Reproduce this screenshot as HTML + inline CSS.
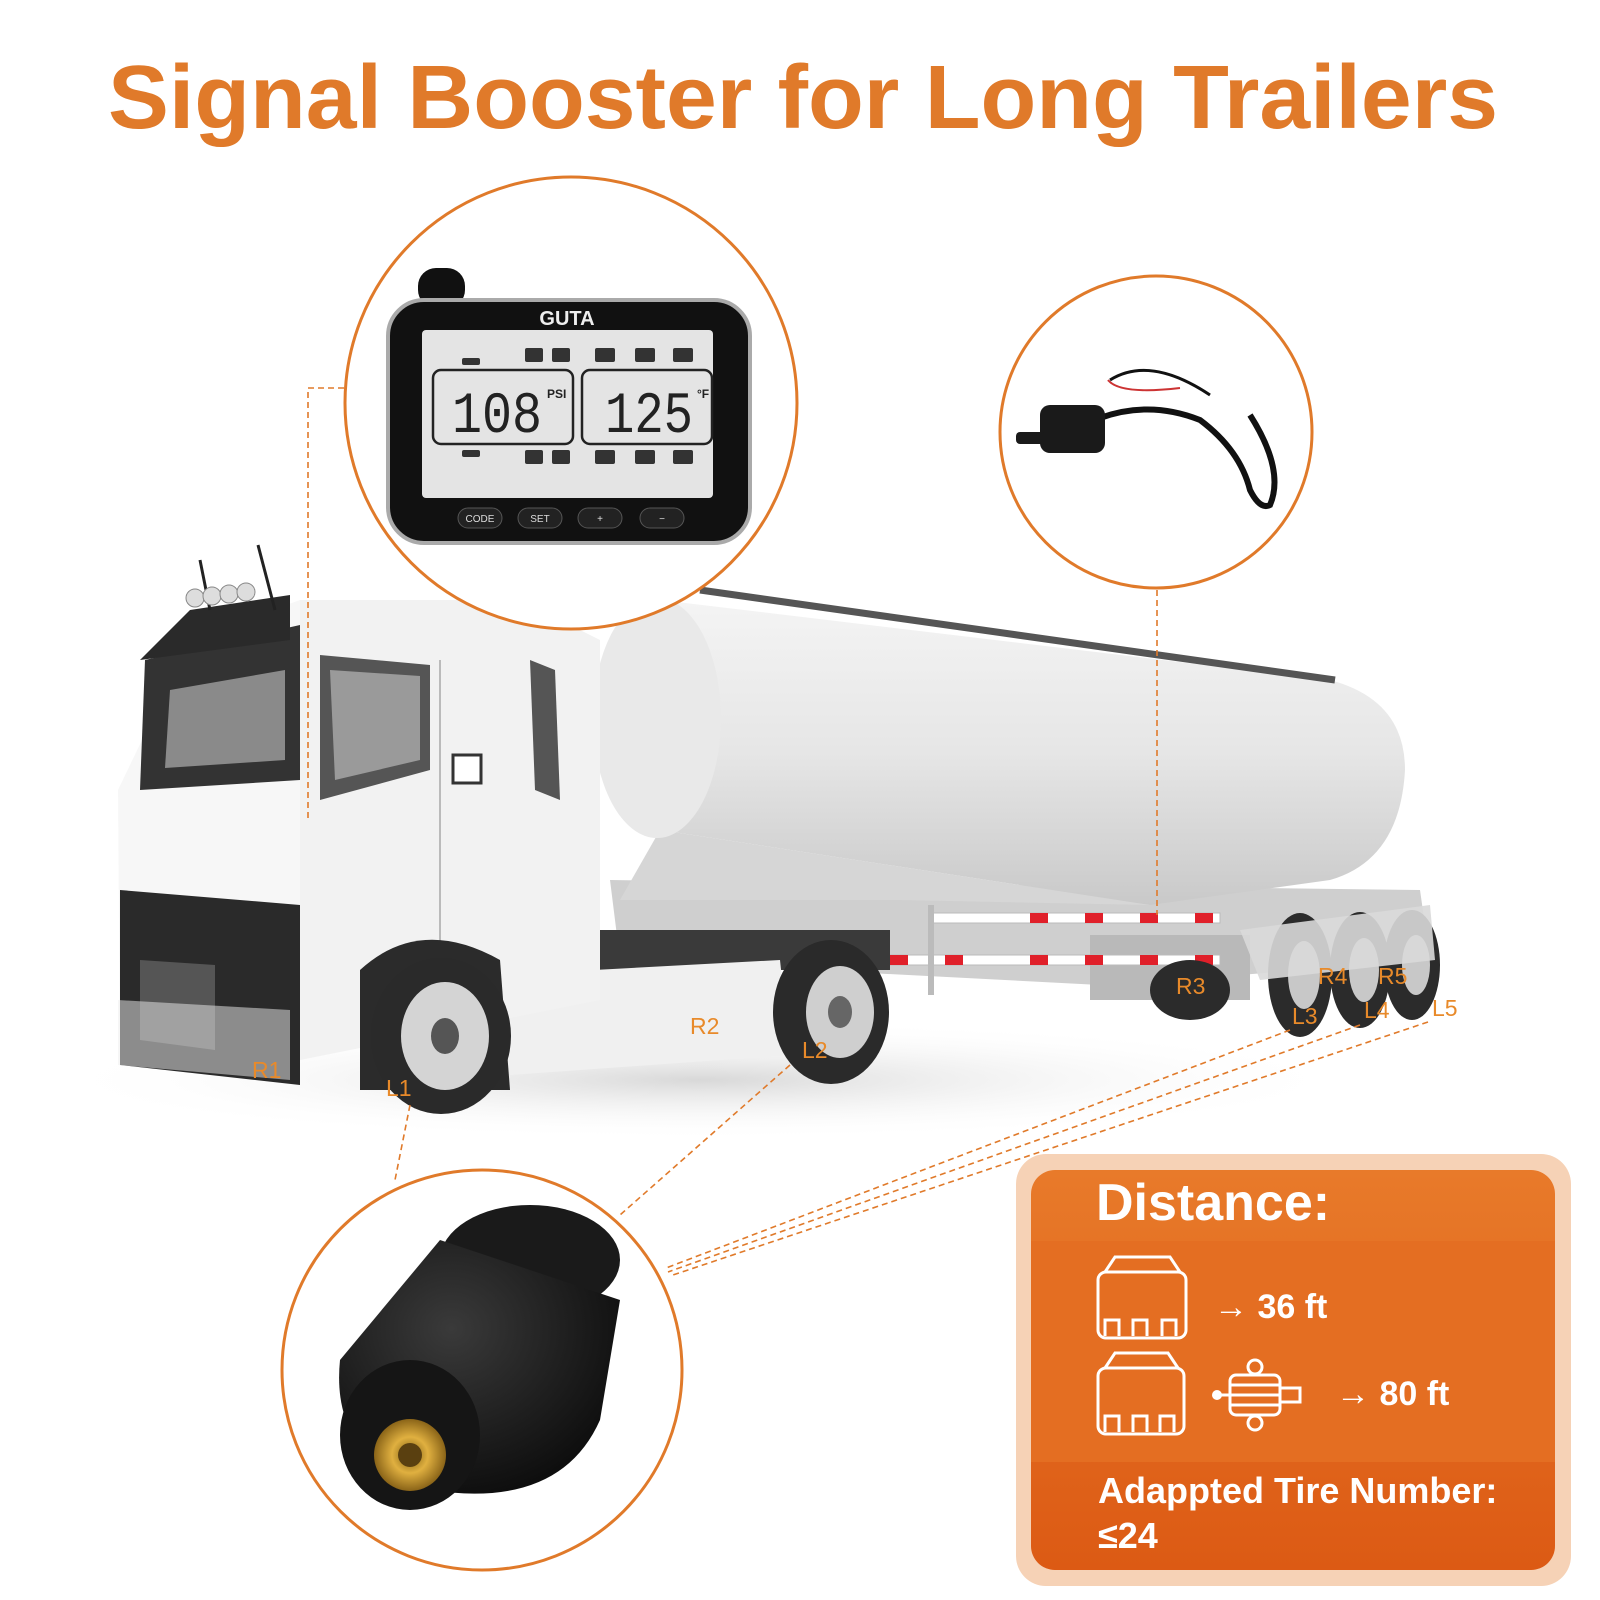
<!DOCTYPE html>
<html><head><meta charset="utf-8"><style>
html,body{margin:0;padding:0;background:#fff;}
svg{display:block}
</style></head><body>
<svg width="1600" height="1600" viewBox="0 0 1600 1600" xmlns="http://www.w3.org/2000/svg" font-family="Liberation Sans, sans-serif">
<defs>
<linearGradient id="tank" x1="0" y1="0" x2="0" y2="1"><stop offset="0" stop-color="#f4f4f4"/><stop offset="0.5" stop-color="#e6e6e6"/><stop offset="1" stop-color="#c9c9c9"/></linearGradient>
<linearGradient id="org" x1="0" y1="0" x2="0" y2="1"><stop offset="0" stop-color="#e87a2a"/><stop offset="1" stop-color="#dc5a14"/></linearGradient>
<radialGradient id="sens" cx="0.4" cy="0.35" r="0.7"><stop offset="0" stop-color="#3a3a3a"/><stop offset="1" stop-color="#0c0c0c"/></radialGradient>
<radialGradient id="brass" cx="0.5" cy="0.5" r="0.5"><stop offset="0" stop-color="#7a5a10"/><stop offset="0.5" stop-color="#e0b040"/><stop offset="1" stop-color="#8a6418"/></radialGradient>
<radialGradient id="shadow" cx="0.5" cy="0.5" r="0.5"><stop offset="0" stop-color="#d8d8d8"/><stop offset="1" stop-color="#fff" stop-opacity="0"/></radialGradient>
</defs>

<text x="803" y="128" text-anchor="middle" font-size="90" font-weight="bold" fill="#e07a2a" textLength="1390" lengthAdjust="spacingAndGlyphs">Signal Booster for Long Trailers</text>

<ellipse cx="700" cy="1080" rx="660" ry="60" fill="url(#shadow)"/>

<polygon points="610,880 1420,890 1430,960 1240,975 1100,985 620,960" fill="#cfcfcf"/>
<rect x="1090" y="935" width="160" height="65" fill="#b9b9b9"/>
<path d="M660,600 L1330,680 Q1405,700 1405,770 Q1400,860 1330,880 L1150,905 L660,830 Z" fill="url(#tank)"/>
<path d="M660,830 L620,900 L900,900 L1150,905 Z" fill="#d6d6d6"/>
<ellipse cx="657" cy="718" rx="64" ry="120" fill="#e9e9e9"/>
<line x1="700" y1="590" x2="1335" y2="680" stroke="#555" stroke-width="7"/>
<g>
<rect x="930" y="913" width="290" height="10" fill="#fff" stroke="#bbb"/>
<rect x="880" y="955" width="340" height="10" fill="#fff" stroke="#bbb"/>
<g fill="#e0202a">
<rect x="1030" y="913" width="18" height="10"/><rect x="1085" y="913" width="18" height="10"/><rect x="1140" y="913" width="18" height="10"/><rect x="1195" y="913" width="18" height="10"/>
<rect x="890" y="955" width="18" height="10"/><rect x="945" y="955" width="18" height="10"/><rect x="1030" y="955" width="18" height="10"/><rect x="1085" y="955" width="18" height="10"/><rect x="1140" y="955" width="18" height="10"/><rect x="1195" y="955" width="18" height="10"/>
</g>
</g>
<rect x="928" y="905" width="6" height="90" fill="#bbb"/>
<g fill="#2b2b2b">
<ellipse cx="1190" cy="990" rx="40" ry="30"/>
<ellipse cx="1300" cy="975" rx="32" ry="62"/><ellipse cx="1360" cy="970" rx="30" ry="58"/><ellipse cx="1412" cy="965" rx="28" ry="55"/>
</g>
<g fill="#c8c8c8"><ellipse cx="1304" cy="975" rx="16" ry="34"/><ellipse cx="1364" cy="970" rx="15" ry="32"/><ellipse cx="1416" cy="965" rx="14" ry="30"/></g>
<polygon points="1240,930 1430,905 1435,960 1260,980" fill="#d9d9d9" opacity="0.9"/>

<rect x="560" y="930" width="330" height="40" fill="#3a3a3a"/>
<polygon points="500,975 780,960 790,1055 510,1075" fill="#f0f0f0"/>
<ellipse cx="831" cy="1012" rx="58" ry="72" fill="#2a2a2a"/>
<ellipse cx="840" cy="1012" rx="34" ry="46" fill="#cfcfcf"/>
<ellipse cx="840" cy="1012" rx="12" ry="16" fill="#666"/>

<path d="M300,600 L520,600 L600,640 L600,1000 L300,1060 Z" fill="#f2f2f2"/>
<path d="M190,640 L300,600 L300,1080 L120,1060 L118,790 Z" fill="#f7f7f7"/>
<polygon points="145,660 300,625 300,780 140,790" fill="#333"/>
<polygon points="170,690 285,670 285,760 165,768" fill="#8a8a8a"/>
<polygon points="320,655 430,665 430,770 320,800" fill="#555"/>
<polygon points="330,670 420,676 420,760 335,780" fill="#9a9a9a"/>
<polygon points="530,660 555,670 560,800 535,790" fill="#555"/>
<rect x="453" y="755" width="28" height="28" fill="#fff" stroke="#333" stroke-width="3"/>
<line x1="440" y1="660" x2="440" y2="1020" stroke="#bbb" stroke-width="2"/>
<path d="M140,660 L190,610 L290,595 L290,640 Z" fill="#2a2a2a"/>
<polygon points="120,890 300,905 300,1085 120,1065" fill="#2a2a2a"/>
<polygon points="140,960 215,965 215,1050 140,1040" fill="#555"/>
<polygon points="118,1000 290,1010 290,1080 118,1065" fill="#eee" opacity="0.5"/>
<path d="M360,1090 L360,970 Q420,915 500,960 L510,1090 Z" fill="#2b2b2b"/>
<ellipse cx="441" cy="1036" rx="70" ry="78" fill="#2a2a2a"/>
<ellipse cx="445" cy="1036" rx="44" ry="54" fill="#d4d4d4"/>
<ellipse cx="445" cy="1036" rx="14" ry="18" fill="#555"/>
<line x1="200" y1="560" x2="210" y2="610" stroke="#222" stroke-width="3"/>
<line x1="258" y1="545" x2="275" y2="610" stroke="#222" stroke-width="3"/>
<g fill="#ddd" stroke="#888"><circle cx="195" cy="598" r="9"/><circle cx="212" cy="596" r="9"/><circle cx="229" cy="594" r="9"/><circle cx="246" cy="592" r="9"/></g>

<g fill="#e88a2a" font-size="23">
<text x="252" y="1078">R1</text><text x="386" y="1096">L1</text><text x="690" y="1034">R2</text><text x="802" y="1058">L2</text>
<text x="1176" y="994">R3</text><text x="1318" y="984">R4</text><text x="1378" y="984">R5</text>
<text x="1292" y="1024">L3</text><text x="1364" y="1018">L4</text><text x="1432" y="1016">L5</text>
</g>

<g stroke="#e07a2a" stroke-width="1.6" stroke-dasharray="6,4" fill="none">
<polyline points="344,388 308,388 308,820"/>
<line x1="1157" y1="590" x2="1157" y2="915"/>
<line x1="410" y1="1105" x2="395" y2="1180"/>
<line x1="790" y1="1065" x2="620" y2="1215"/>
<line x1="1290" y1="1030" x2="666" y2="1268"/>
<line x1="1360" y1="1025" x2="668" y2="1272"/>
<line x1="1428" y1="1022" x2="670" y2="1276"/>
</g>

<circle cx="571" cy="403" r="226" fill="#fff" stroke="#e07a2a" stroke-width="3"/>
<rect x="418" y="268" width="47" height="40" rx="18" fill="#111"/>
<rect x="388" y="300" width="362" height="243" rx="36" fill="#111" stroke="#aaa" stroke-width="4"/>
<rect x="422" y="330" width="291" height="168" rx="4" fill="#e4e4e4"/>
<text x="567" y="325" text-anchor="middle" font-size="20" font-weight="bold" fill="#eee">GUTA</text>
<rect x="433" y="370" width="140" height="74" rx="8" fill="none" stroke="#222" stroke-width="2.5"/>
<rect x="582" y="370" width="130" height="74" rx="8" fill="none" stroke="#222" stroke-width="2.5"/>
<text x="452" y="432" font-family="Liberation Mono, monospace" font-size="58" fill="#222" textLength="90" lengthAdjust="spacingAndGlyphs">108</text>
<text x="547" y="398" font-size="12" font-weight="bold" fill="#222">PSI</text>
<text x="605" y="432" font-family="Liberation Mono, monospace" font-size="58" fill="#222" textLength="88" lengthAdjust="spacingAndGlyphs">125</text>
<text x="697" y="398" font-size="12" font-weight="bold" fill="#222">°F</text>
<g fill="#333">
<rect x="525" y="348" width="18" height="14" rx="2"/><rect x="552" y="348" width="18" height="14" rx="2"/><rect x="595" y="348" width="20" height="14" rx="2"/><rect x="635" y="348" width="20" height="14" rx="2"/><rect x="673" y="348" width="20" height="14" rx="2"/>
<rect x="525" y="450" width="18" height="14" rx="2"/><rect x="552" y="450" width="18" height="14" rx="2"/><rect x="595" y="450" width="20" height="14" rx="2"/><rect x="635" y="450" width="20" height="14" rx="2"/><rect x="673" y="450" width="20" height="14" rx="2"/>
<rect x="462" y="358" width="18" height="7" rx="2"/><rect x="462" y="450" width="18" height="7" rx="2"/>
</g>
<g fill="#222" stroke="#555"><rect x="458" y="508" width="44" height="20" rx="10"/><rect x="518" y="508" width="44" height="20" rx="10"/><rect x="578" y="508" width="44" height="20" rx="10"/><rect x="640" y="508" width="44" height="20" rx="10"/></g>
<g fill="#ddd" font-size="10" text-anchor="middle"><text x="480" y="522">CODE</text><text x="540" y="522">SET</text><text x="600" y="522">+</text><text x="662" y="522">−</text></g>

<circle cx="1156" cy="432" r="156" fill="#fff" stroke="#e07a2a" stroke-width="3"/>
<path d="M1100,418 Q1150,400 1200,420 Q1240,450 1250,490 Q1260,510 1270,505 Q1285,470 1250,415" fill="none" stroke="#111" stroke-width="6"/>
<path d="M1110,380 Q1150,355 1210,395" fill="none" stroke="#111" stroke-width="3"/>
<path d="M1108,380 Q1120,395 1180,388" fill="none" stroke="#c33" stroke-width="2"/>
<rect x="1040" y="405" width="65" height="48" rx="10" fill="#1a1a1a"/>
<rect x="1016" y="432" width="30" height="12" rx="4" fill="#1a1a1a"/>

<circle cx="482" cy="1370" r="200" fill="#fff" stroke="#e07a2a" stroke-width="3"/>
<ellipse cx="530" cy="1260" rx="90" ry="55" fill="#1a1a1a"/>
<path d="M440,1240 L620,1300 L600,1420 Q560,1510 430,1490 Q330,1460 340,1360 Z" fill="url(#sens)"/>
<ellipse cx="410" cy="1435" rx="70" ry="75" fill="#151515"/>
<circle cx="410" cy="1455" r="36" fill="url(#brass)"/>
<circle cx="410" cy="1455" r="12" fill="#5a4010"/>

<rect x="1016" y="1154" width="555" height="432" rx="30" fill="#f6d2b6"/>
<rect x="1031" y="1170" width="524" height="400" rx="24" fill="url(#org)"/>
<rect x="1031" y="1241" width="524" height="221" fill="#e46e22"/>
<text x="1096" y="1220" font-size="52" font-weight="bold" fill="#fff">Distance:</text>
<g fill="none" stroke="#fff" stroke-width="3">
<rect x="1098" y="1272" width="88" height="66" rx="8"/><path d="M1105,1272 L1115,1257 L1170,1257 L1180,1272"/><path d="M1105,1336 v-16 h14 v16 M1133,1336 v-16 h14 v16 M1162,1336 v-16 h14 v16"/>
<rect x="1098" y="1368" width="86" height="66" rx="8"/><path d="M1105,1368 L1115,1353 L1168,1353 L1178,1368"/><path d="M1105,1432 v-16 h14 v16 M1133,1432 v-16 h14 v16 M1160,1432 v-16 h14 v16"/>
<rect x="1230" y="1375" width="50" height="40" rx="6"/><path d="M1230,1385 h50 M1230,1395 h50 M1230,1405 h50"/><rect x="1280" y="1388" width="20" height="14"/>
<circle cx="1255" cy="1367" r="7"/><circle cx="1255" cy="1423" r="7"/>
</g>
<circle cx="1217" cy="1395" r="5" fill="#fff"/><line x1="1217" y1="1395" x2="1230" y2="1395" stroke="#fff" stroke-width="3"/>
<text x="1214" y="1318" font-size="34" font-weight="bold" fill="#fff">→ 36 ft</text>
<text x="1336" y="1405" font-size="34" font-weight="bold" fill="#fff">→ 80 ft</text>
<text x="1098" y="1503" font-size="36" font-weight="bold" fill="#fff">Adappted Tire Number:</text>
<text x="1098" y="1548" font-size="36" font-weight="bold" fill="#fff">≤24</text>
</svg>
</body></html>
